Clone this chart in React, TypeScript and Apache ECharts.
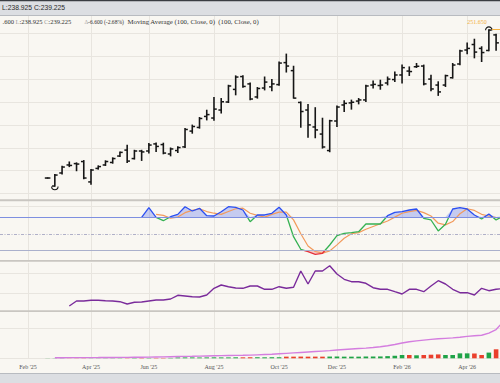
import React, { useEffect, useRef } from 'react';
import * as echarts from 'echarts';

const weekDates = ['2025-02-17','2025-02-24','2025-03-03','2025-03-10','2025-03-17','2025-03-24','2025-03-31','2025-04-07','2025-04-14','2025-04-21','2025-04-28','2025-05-05','2025-05-12','2025-05-19','2025-05-26','2025-06-02','2025-06-09','2025-06-16','2025-06-23','2025-06-30','2025-07-07','2025-07-14','2025-07-21','2025-07-28','2025-08-04','2025-08-11','2025-08-18','2025-08-25','2025-09-01','2025-09-08','2025-09-15','2025-09-22','2025-09-29','2025-10-06','2025-10-13','2025-10-20','2025-10-27','2025-11-03','2025-11-10','2025-11-17','2025-11-24','2025-12-01','2025-12-08','2025-12-15','2025-12-22','2025-12-29','2026-01-05','2026-01-12','2026-01-19','2026-01-26','2026-02-02','2026-02-09','2026-02-16','2026-02-23','2026-03-02','2026-03-09','2026-03-16','2026-03-23','2026-03-30','2026-04-06','2026-04-13','2026-04-20','2026-04-27','2026-05-04'];

const opens = [186.8,183.3,189.0,192.5,193.1,194.0,185.1,191.0,192.5,193.6,196.4,199.0,195.3,198.6,198.6,201.7,201.4,197.3,198.8,200.4,207.3,208.9,213.7,213.0,216.5,220.0,225.5,231.1,227.9,222.2,226.1,226.6,227.6,237.2,233.7,219.8,216.5,209.1,206.0,198.8,211.7,218.7,219.6,220.4,220.9,227.4,227.2,228.3,229.8,231.8,233.5,235.4,235.7,230.0,227.4,227.4,230.6,236.6,242.7,245.1,243.4,242.5,249.3,245.8];
const highs = [187.0,188.4,192.0,193.9,193.5,194.5,190.6,192.2,194.4,195.7,198.3,201.2,199.0,199.0,202.0,202.2,202.1,200.0,200.5,208.5,210.0,213.3,216.5,222.0,221.6,227.4,231.5,231.5,228.4,226.4,231.0,229.9,237.6,241.0,235.7,220.1,219.0,217.6,213.0,212.1,218.3,220.6,220.9,221.6,227.4,229.3,229.6,231.0,233.2,236.2,235.4,236.9,236.2,231.8,228.9,231.8,236.9,242.7,245.8,247.5,244.2,251.65,249.7,246.4];
const lows = [186.6,183.1,188.5,191.7,189.9,186.4,184.0,190.6,192.2,193.2,196.1,193.5,195.0,194.4,197.6,198.3,197.3,196.4,197.9,200.0,206.3,208.5,212.1,211.9,215.1,219.7,223.05,226.4,220.9,221.6,225.2,224.8,227.2,233.0,221.6,208.9,204.5,204.3,199.8,198.2,209.2,215.8,216.8,219.1,220.1,226.0,225.5,227.4,228.9,228.2,231.5,235.0,227.4,224.8,222.8,226.7,230.35,236.15,241.0,239.2,237.6,242.3,242.5,238.925];
const closes = [186.8,188.1,191.6,192.3,192.9,186.8,190.3,191.8,194.0,195.3,198.0,194.2,198.6,198.2,201.2,200.6,197.7,199.5,200.1,208.0,209.3,212.8,214.5,216.9,220.1,227.0,230.9,226.8,221.3,225.9,228.7,227.9,237.0,235.7,221.7,215.85,210.0,207.8,200.35,211.8,217.8,219.4,219.9,220.9,227.0,227.7,227.4,230.0,231.8,235.0,233.3,235.6,227.9,225.7,224.4,231.5,236.15,242.3,243.4,241.8,241.6,251.4,245.825,239.225];

const stochK = [null,null,null,null,null,null,null,null,null,null,null,null,null,79.6,96.9,79.6,73.5,80.7,85.0,98.7,91.0,95.9,82.5,82.0,89.7,98.7,97.7,92.8,71.7,83.8,83.8,86.8,97.7,83.8,44.7,22.0,17.7,13.0,14.8,29.7,46.5,50.8,51.9,53.7,67.6,67.6,67.6,82.5,88.6,89.7,92.8,94.6,77.8,74.8,55.0,67.0,94.6,96.9,94.6,83.8,76.6,85.6,74.8,82.0];
const stochD = [null,null,null,null,null,null,null,null,null,null,null,null,null,null,null,85,83,78,80,88,92,95,90,87,85,90,95,96,87,83,80,85,89,89,75,50,28,18,15,19,30,42,50,52,58,63,68,73,80,87,90,92,88,82,69,66,72,86,95,92,85,82,79,78];
const stochLevels = [80, 50, 20];

const indicator = [null,null,null,2.70,3.20,3.20,3.27,3.27,3.23,3.20,3.13,2.90,3.07,3.10,3.20,3.30,3.30,3.40,3.77,3.70,3.63,3.60,3.80,4.47,4.80,4.63,4.50,4.47,4.70,4.70,4.37,4.37,4.63,4.47,4.57,6.20,4.90,6.20,6.20,6.73,5.90,5.37,5.13,5.13,4.97,4.53,4.37,4.37,4.13,3.90,4.37,4.37,4.13,4.70,5.23,4.90,4.37,4.03,4.03,3.80,4.47,4.23,4.37,4.45];

const volumes = [0.04,0.05,0.05,0.04,0.05,0.06,0.05,0.05,0.06,0.06,0.07,0.07,0.1,0.1,0.12,0.12,0.13,0.14,0.28,0.3,0.3,0.28,0.3,0.32,0.3,0.3,0.33,0.32,0.35,0.35,0.33,0.36,0.35,0.55,0.55,0.57,0.55,0.56,0.55,0.58,0.6,0.55,0.55,0.55,0.6,0.6,0.62,0.72,0.85,1.1,1.1,1.0,1.1,1.2,1.3,1.1,1.1,1.65,1.65,1.6,1.1,1.9,3.0,4.0];
const volumeLine = [null,0.2,0.2,0.21,0.22,0.23,0.24,0.25,0.27,0.28,0.3,0.32,0.34,0.37,0.4,0.44,0.48,0.53,0.58,0.63,0.68,0.74,0.79,0.84,0.88,0.92,0.96,1.0,1.05,1.15,1.25,1.35,1.5,1.65,1.8,1.95,2.1,2.25,2.4,2.55,2.75,2.95,3.1,3.25,3.4,3.6,3.85,4.2,4.6,5.1,5.5,5.8,6.05,6.3,6.5,6.65,6.8,7.0,7.3,7.5,7.7,8.4,9.6,12.2];

const monthTickDates = ['2025-01-29','2025-03-31','2025-05-26','2025-07-28','2025-09-29','2025-11-24','2026-01-26','2026-03-30'];
const monthTickLabels = ["Feb '25", "Apr '25", "Jun '25", "Aug '25", "Oct '25", "Dec '25", "Feb '26", "Apr '26"];

const DAY = 86400000;
const toTs = (s: string) => Date.parse(s + 'T00:00:00Z');
const PX_PER_DAY = 1.0334;
const X_MIN = toTs('2025-02-17') - 46.06 * DAY;
const X_MAX = X_MIN + (500 / PX_PER_DAY) * DAY;

const BG = '#f9f7f2';
const GRID = '#e8e5df';
const SEP = '#c9c6c1';
const BAND = '#dcdee2';
const SERIF = '"Liberation Serif", "Times New Roman", serif';
const SANS = '"Liberation Sans", Arial, sans-serif';

export default function App() {
  const ref = useRef<HTMLDivElement>(null);
  useEffect(() => {
    document.body.style.margin = '0';
    if (!ref.current) return;
    const chart = echarts.init(ref.current, null, { renderer: 'svg' });
    const ts = weekDates.map(toTs);
    const tickTs = monthTickDates.map(toTs);
    const ohlc = ts.map((t, i) => [t, opens[i], highs[i], lows[i], closes[i]]);

    let hiIdx = 0, loIdx = 0;
    highs.forEach((h, i) => { if (h > highs[hiIdx]) hiIdx = i; });
    lows.forEach((l, i) => { if (l < lows[loIdx]) loIdx = i; });
    const markers = [[ts[hiIdx], highs[hiIdx], 1], [ts[loIdx], lows[loIdx], 0]];

    const pairs = (arr: (number | null)[], f?: (v: number) => number) =>
      ts.map((t, i) => [t, arr[i]] as [number, number | null])
        .filter(p => p[1] != null)
        .map(p => [p[0], f ? f(p[1] as number) : p[1]]);

    const xAxis = (gridIndex: number, labels: boolean) => ({
      type: 'value', gridIndex, min: X_MIN, max: X_MAX,
      axisLine: { show: false },
      axisTick: { show: false, customValues: tickTs },
      axisLabel: labels ? {
        show: true, customValues: tickTs, margin: 6, fontSize: 6, fontFamily: SERIF, color: '#555',
        formatter: (v: number) => {
          const k = tickTs.findIndex(t => Math.abs(t - v) < DAY / 2);
          return k >= 0 ? monthTickLabels[k] : '';
        },
      } : { show: false },
      splitLine: { show: true, lineStyle: { color: GRID, width: 1 } },
    });
    const yAxis = (gridIndex: number, min: number, max: number, interval: number, showMin: boolean) => ({
      type: 'value', gridIndex, min, max, interval, position: 'right',
      axisLine: { show: false }, axisTick: { show: false }, axisLabel: { show: false },
      splitLine: { show: true, showMinLine: showMin, showMaxLine: false, lineStyle: { color: GRID, width: 1 } },
    });

    const st = { stroke: '#161616', lineWidth: 1.5 };
    const option: any = {
      animation: false,
      backgroundColor: BG,
      grid: [
        { left: 0, width: 500, top: 10.4, height: 206.1 },
        { left: 0, width: 500, top: 206, height: 55.5 },
        { left: 0, width: 500, top: 263, height: 50 },
        { left: 0, width: 500, top: 311, height: 47.3 },
      ],
      xAxis: [xAxis(0, false), xAxis(1, false), xAxis(2, false), xAxis(3, true)],
      yAxis: [
        yAxis(0, 170, 260, 10, false),
        { ...yAxis(1, 0, 100, 100, false), splitLine: { show: true, showMinLine: false, showMaxLine: true, lineStyle: { color: GRID } } },
        yAxis(2, 2, 7, 2, false),
        yAxis(3, 0, 15.77, 10, true),
      ],
      visualMap: [{
        type: 'piecewise', show: false, seriesIndex: 4, dimension: 1,
        pieces: [
          { lt: 20, color: '#e5323b' },
          { gte: 20, lte: 80, color: '#35b152' },
          { gt: 80, color: '#2b4ff2' },
        ],
      }],
      series: [
        {
          type: 'custom', name: 'price', xAxisIndex: 0, yAxisIndex: 0, silent: true,
          dimensions: ['t', 'o', 'h', 'l', 'c'], encode: { x: 0, y: [1, 2, 3, 4] },
          data: ohlc,
          renderItem: (p: any, api: any) => {
            const t = api.value(0);
            const [x, yO] = api.coord([t, api.value(1)]);
            const yH = api.coord([t, api.value(2)])[1];
            const yL = api.coord([t, api.value(3)])[1];
            const yC = api.coord([t, api.value(4)])[1];
            return {
              type: 'group', children: [
                { type: 'line', shape: { x1: x, y1: yH - 0.3, x2: x, y2: yL + 0.3 }, style: { ...st, lineWidth: 1.6 } },
                { type: 'line', shape: { x1: x - 2.8, y1: yO, x2: x, y2: yO }, style: st },
                { type: 'line', shape: { x1: x, y1: yC, x2: x + 2.8, y2: yC }, style: st },
              ],
            };
          },
        },
        {
          type: 'custom', name: 'extremes', xAxisIndex: 0, yAxisIndex: 0, silent: true,
          data: markers,
          renderItem: (p: any, api: any) => {
            const [x, y] = api.coord([api.value(0), api.value(1)]);
            if (api.value(2) === 1) {
              return {
                type: 'group', children: [
                  { type: 'arc', shape: { cx: x, cy: y + 0.7, r: 3.3, startAngle: Math.PI, endAngle: 2 * Math.PI }, style: { stroke: '#161616', fill: 'none', lineWidth: 1.1 } },
                  { type: 'line', shape: { x1: x + 3, y1: y, x2: x + 40, y2: y }, style: { stroke: '#f4b03e', lineWidth: 1 } },
                  { type: 'text', x: x - 2, y: y - 7.6, style: { text: (api.value(1) as number).toFixed(3), align: 'right', verticalAlign: 'middle', fill: '#f4b03e', fontSize: 6, fontFamily: SERIF } },
                ],
              };
            }
            return {
              type: 'arc', shape: { cx: x, cy: y, r: 3.2, startAngle: 0, endAngle: Math.PI }, style: { stroke: '#161616', fill: 'none', lineWidth: 1.1 },
            };
          },
        },
        {
          type: 'line', name: 'kAbove', xAxisIndex: 1, yAxisIndex: 1, silent: true, symbol: 'none',
          data: pairs(stochK, v => Math.max(v, 80)),
          lineStyle: { width: 0, opacity: 0 },
          areaStyle: { origin: 80, color: 'rgba(72,100,236,0.42)' },
        },
        {
          type: 'line', name: 'kBelow', xAxisIndex: 1, yAxisIndex: 1, silent: true, symbol: 'none',
          data: pairs(stochK, v => Math.min(v, 20)),
          lineStyle: { width: 0, opacity: 0 },
          areaStyle: { origin: 20, color: 'rgba(240,70,80,0.38)' },
        },
        {
          type: 'line', name: '%K', xAxisIndex: 1, yAxisIndex: 1, silent: true, symbol: 'none',
          data: pairs(stochK), lineStyle: { width: 1.3 }, z: 4,
        },
        {
          type: 'line', name: '%D', xAxisIndex: 1, yAxisIndex: 1, silent: true, symbol: 'none',
          data: pairs(stochD), lineStyle: { width: 1.2, color: '#f29a5c' }, itemStyle: { color: '#f29a5c' }, z: 3,
          markLine: {
            silent: true, symbol: ['none', 'none'], label: { show: false }, animation: false,
            data: [
              { yAxis: stochLevels[0], lineStyle: { color: '#7e8fe0', type: 'solid', width: 1 } },
              { yAxis: stochLevels[1], lineStyle: { color: '#b0b0c8', type: [3, 1.5, 1, 1.5], width: 1 } },
              { yAxis: stochLevels[2], lineStyle: { color: '#aab0cc', type: 'solid', width: 1.2 } },
            ],
          },
        },
        {
          type: 'line', name: 'indicator', xAxisIndex: 2, yAxisIndex: 2, silent: true, symbol: 'none',
          data: pairs(indicator), lineStyle: { width: 1.4, color: '#7a2b9b' }, itemStyle: { color: '#7a2b9b' },
        },
        {
          type: 'bar', name: 'volume', xAxisIndex: 3, yAxisIndex: 3, silent: true, barWidth: 4.6,
          data: ts.map((t, i) => ({ value: [t, volumes[i]], itemStyle: { color: closes[i] >= opens[i] ? '#1fa347' : '#ea3f2c' } })),
        },
        {
          type: 'line', name: 'volumeLine', xAxisIndex: 3, yAxisIndex: 3, silent: true, symbol: 'none',
          data: pairs(volumeLine), lineStyle: { width: 1.4, color: '#d47ddf' }, itemStyle: { color: '#d47ddf' }, z: 5,
        },
      ],
      graphic: [
        { type: 'rect', z: 100, shape: { x: 0, y: 0, width: 500, height: 15.5 }, style: { fill: BAND } },
        { type: 'rect', z: 101, shape: { x: 0, y: 0, width: 500, height: 1.2 }, style: { fill: '#3a3d42' } },
        { type: 'rect', z: 101, shape: { x: 0, y: 15, width: 500, height: 1 }, style: { fill: '#b8bbc0' } },
        { type: 'text', z: 102, x: 2, y: 7.8, style: { text: 'L:238.925 C:239.225', fill: '#2a2a2a', fontSize: 6.75, fontFamily: SANS, verticalAlign: 'middle' } },
        {
          type: 'text', z: 102, x: 2.5, y: 21.5, style: {
            text: '.600 {g|L}:238.925 {g|C}:239.225', fill: '#333', fontSize: 6.5, fontFamily: SERIF, verticalAlign: 'middle',
            rich: { g: { fill: '#a0a0a0', fontSize: 6.5, fontFamily: SERIF } },
          },
        },
        {
          type: 'text', z: 102, x: 84.5, y: 21.5, style: {
            text: '{g|Δ}-6.600 (-2.68%)', fill: '#333', fontSize: 5.6, fontFamily: SERIF, verticalAlign: 'middle',
            rich: { g: { fill: '#a0a0a0', fontSize: 5.6, fontFamily: SERIF } },
          },
        },
        { type: 'text', z: 102, x: 127.5, y: 21.5, style: { text: 'Moving Average (100, Close, 0)  (100, Close, 0)', fill: '#333', fontSize: 6.8, fontFamily: SERIF, verticalAlign: 'middle' } },
        { type: 'rect', z: 100, shape: { x: 0, y: 199.2, width: 500, height: 2 }, style: { fill: SEP } },
        { type: 'rect', z: 100, shape: { x: 0, y: 260, width: 500, height: 1.8 }, style: { fill: SEP } },
        { type: 'rect', z: 100, shape: { x: 0, y: 310.2, width: 500, height: 1.8 }, style: { fill: SEP } },
        { type: 'rect', z: 100, shape: { x: 0, y: 373.5, width: 500, height: 10 }, style: { fill: BAND } },
        { type: 'rect', z: 101, shape: { x: 0, y: 373, width: 500, height: 1 }, style: { fill: '#b8bbc0' } },
      ],
    };
    chart.setOption(option);
    return () => chart.dispose();
  }, []);
  return <div ref={ref} style={{ width: 500, height: 383, background: BG }} />;
}
